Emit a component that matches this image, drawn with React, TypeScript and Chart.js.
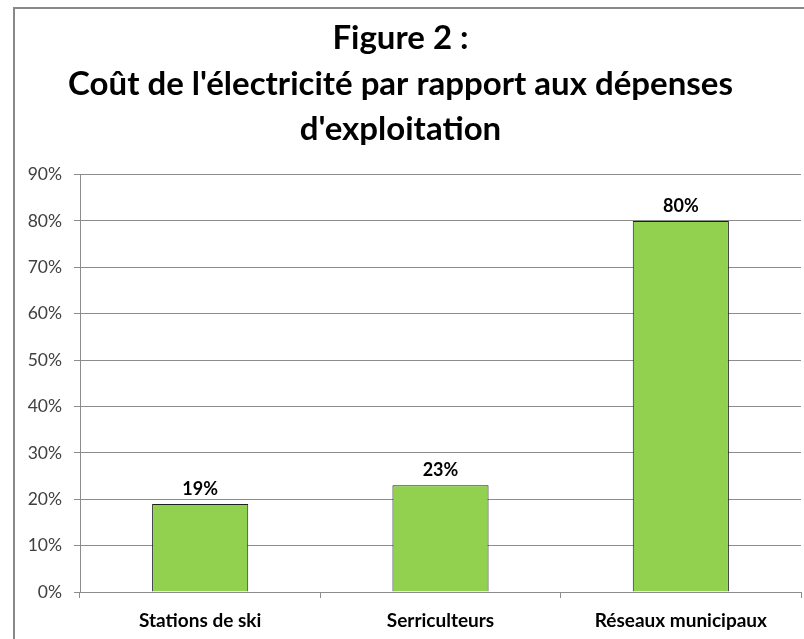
import React, { useEffect, useRef } from "react";
import { Chart, registerables } from "chart.js";

Chart.register(...registerables);

const titleLines = ["Figure 2 :", "Coût de l'électricité par rapport aux dépenses", "d'exploitation"];
const categories = ["Stations de ski", "Serriculteurs", "Réseaux municipaux"];
const values = [19, 23, 80];
const yTickMax = 90;
const yTickStep = 10;

const valueLabels = {
  id: "valueLabels",
  afterDatasetsDraw(chart: any) {
    const ctx = chart.ctx;
    const meta = chart.getDatasetMeta(0);
    ctx.save();
    ctx.font = "bold 18px Lato";
    ctx.fillStyle = "#000";
    ctx.textAlign = "center";
    ctx.textBaseline = "alphabetic";
    meta.data.forEach((el: any, i: number) => {
      ctx.fillText(values[i] + "%", el.x, el.y - 9);
    });
    ctx.restore();
  },
};

const whiteBg = {
  id: "whiteBg",
  beforeDraw(chart: any) {
    const ctx = chart.ctx;
    ctx.save();
    ctx.fillStyle = "#fff";
    ctx.fillRect(0, 0, chart.width, chart.height);
    ctx.restore();
  },
};

export default function App() {
  const ref = useRef<HTMLCanvasElement>(null);
  useEffect(() => {
    if (!ref.current) return;
    const chart = new Chart(ref.current, {
      type: "bar",
      data: {
        labels: categories,
        datasets: [
          {
            data: values,
            backgroundColor: "#92D050",
            borderColor: "#1f1f1f",
            borderWidth: 1,
            barPercentage: 0.4,
            categoryPercentage: 1,
          },
        ],
      },
      options: {
        animation: false,
        responsive: false,
        maintainAspectRatio: false,
        layout: { padding: { left: 0, right: 3, top: 0, bottom: 0 } },
        plugins: {
          legend: { display: false },
          tooltip: { enabled: false },
          title: {
            display: true,
            text: titleLines,
            color: "#000",
            font: { family: "Lato", size: 33, weight: "bold", lineHeight: 1.38 },
            padding: { top: 16, bottom: 22 },
          },
        },
        scales: {
          x: {
            offset: true,
            grid: {
              offset: true,
              drawOnChartArea: false,
              drawTicks: true,
              tickLength: 6,
              color: "#8c8c8c",
            },
            border: { color: "#8c8c8c", width: 1 },
            ticks: {
              color: "#000",
              font: { family: "Lato", size: 19, weight: "bold" },
              padding: 11,
              maxRotation: 0,
            },
            afterFit(scale: any) {
              scale.height = 47;
            },
          },
          y: {
            min: 0,
            max: yTickMax,
            grid: { color: "#8c8c8c", tickLength: 6, drawTicks: true },
            border: { color: "#8c8c8c", width: 1 },
            ticks: {
              stepSize: yTickStep,
              color: "#404040",
              font: { family: "Lato", size: 17.5 },
              padding: 12,
              callback: (v: any) => v + "%",
            },
            afterFit(scale: any) {
              scale.width = 80;
            },
          },
        },
      },
      plugins: [whiteBg, valueLabels],
    });
    return () => chart.destroy();
  }, []);
  return (
    <div style={{ position: "absolute", left: 0, top: 0, width: 804, height: 639, overflow: "hidden", background: "#fff" }}>
      <canvas ref={ref} width={804} height={639} style={{ display: "block" }} />
      <div
        style={{
          position: "absolute",
          left: 13,
          top: 7,
          width: 820,
          height: 660,
          borderLeft: "2px solid #888",
          borderTop: "2px solid #888",
          pointerEvents: "none",
        }}
      />
    </div>
  );
}
